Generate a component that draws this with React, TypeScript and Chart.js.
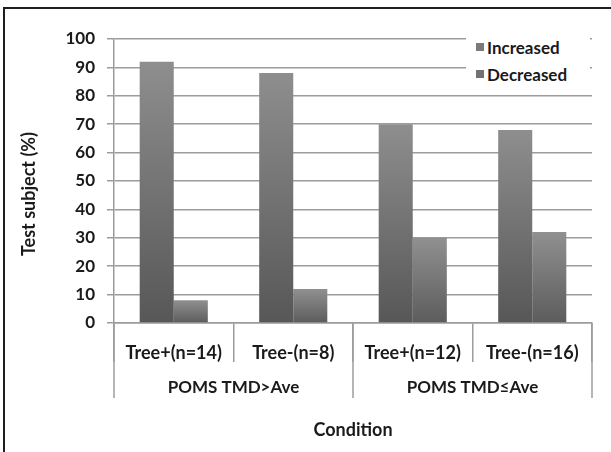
import React, { useEffect, useRef } from 'react';
import { Chart, registerables } from 'chart.js';

Chart.register(...registerables);

const categories = ['Tree+(n=14)', 'Tree-(n=8)', 'Tree+(n=12)', 'Tree-(n=16)'];
const groupLabels = ['POMS TMD>Ave', 'POMS TMD≤Ave'];
const groupSpans = [2, 2];
const seriesNames = ['Increased', 'Decreased'];
const increased = [92, 88, 70, 68];
const decreased = [8, 12, 30, 32];
const yMin = 0;
const yMax = 100;
const yStep = 10;
const yTitle = 'Test subject (%)';
const xTitle = 'Condition';

const FONT = 'Lato, "Open Sans", sans-serif';
const WEIGHT = 'bold';
const TEXT = '#1a1a1a';
const GRID = '#9c9c9c';
const legendColors = ['#7a7a7a', '#727272'];
const gradStops = [
  ['#8e8e8e', '#575757'],
  ['#909090', '#5c5c5c'],
];

function barFill(series: number) {
  return (ctx: any) => {
    const chart = ctx.chart;
    const area = chart.chartArea;
    const y = chart.scales && chart.scales.y;
    if (!area || !y || ctx.type !== 'data' || !ctx.parsed) return legendColors[series];
    const top = y.getPixelForValue(ctx.parsed.y);
    const bottom = y.getPixelForValue(0);
    const g = chart.ctx.createLinearGradient(0, top, 0, bottom);
    g.addColorStop(0, gradStops[series][0]);
    g.addColorStop(1, gradStops[series][1]);
    return g;
  };
}

const groupAxisPlugin = {
  id: 'groupAxis',
  afterDraw(chart: any) {
    const x = chart.scales.x;
    const ctx = chart.ctx;
    const area = chart.chartArea;
    const top = area.bottom;
    const bounds: number[] = [0];
    let acc = 0;
    groupSpans.forEach((s) => {
      acc += s;
      bounds.push(acc);
    });
    ctx.save();
    ctx.strokeStyle = GRID;
    ctx.lineWidth = 1.5;
    bounds.forEach((b) => {
      const px = x.getPixelForValue(b - 0.5);
      ctx.beginPath();
      ctx.moveTo(px, top);
      ctx.lineTo(px, top + 75);
      ctx.stroke();
    });
    ctx.fillStyle = TEXT;
    ctx.font = `${WEIGHT} 17px ${FONT}`;
    ctx.textAlign = 'center';
    ctx.textBaseline = 'middle';
    groupLabels.forEach((lab, i) => {
      const a = x.getPixelForValue(bounds[i] - 0.5);
      const b = x.getPixelForValue(bounds[i + 1] - 0.5);
      ctx.fillText(lab, (a + b) / 2, top + 65);
    });
    // y axis title, centred a little below the plot middle as in the original
    ctx.font = `${WEIGHT} 18px ${FONT}`;
    ctx.translate(29, (area.top + area.bottom) / 2 + 13);
    ctx.rotate(-Math.PI / 2);
    ctx.fillText(yTitle, 0, 0);
    ctx.restore();
  },
};

export default function App() {
  const ref = useRef<HTMLCanvasElement>(null);

  useEffect(() => {
    if (!ref.current) return;
    const chart = new Chart(ref.current, {
      type: 'bar',
      data: {
        labels: categories,
        datasets: [
          { label: seriesNames[0], data: increased, backgroundColor: barFill(0), borderWidth: 0 },
          { label: seriesNames[1], data: decreased, backgroundColor: barFill(1), borderWidth: 0 },
        ],
      },
      options: {
        responsive: false,
        animation: false,
        devicePixelRatio: 1,
        layout: { padding: { left: 0, right: 19, top: 39, bottom: 0 } },
        plugins: {
          legend: { display: false },
          tooltip: { enabled: false },
        },
        datasets: {
          bar: { categoryPercentage: 0.57, barPercentage: 1 },
        },
        scales: {
          x: {
            offset: true,
            grid: {
              offset: true,
              drawOnChartArea: false,
              drawTicks: true,
              tickLength: 39,
              color: GRID,
              lineWidth: 1.5,
            },
            border: { display: true, color: GRID, width: 1.5 },
            ticks: {
              padding: -20,
              color: TEXT,
              font: { family: FONT, size: 18, weight: WEIGHT as any },
              maxRotation: 0,
              autoSkip: false,
            },
            title: {
              display: true,
              text: xTitle,
              color: TEXT,
              font: { family: FONT, size: 18, weight: WEIGHT as any },
              padding: { top: 0, bottom: 11 },
            },
            afterFit: (s: any) => {
              s.height = 129;
            },
          },
          y: {
            min: yMin,
            max: yMax,
            ticks: {
              stepSize: yStep,
              padding: 12,
              color: TEXT,
              font: { family: FONT, size: 17, weight: WEIGHT as any },
            },
            grid: {
              color: GRID,
              lineWidth: 1.5,
              tickLength: 7,
            },
            border: { display: true, color: GRID, width: 1.5 },
            title: { display: false, text: yTitle },
            afterFit: (s: any) => {
              s.width = 114;
            },
          },
        },
      },
      plugins: [groupAxisPlugin],
    });
    return () => chart.destroy();
  }, []);

  return (
    <div style={{ position: 'fixed', left: 0, top: 0, width: 611, height: 452, background: '#fff', overflow: 'hidden' }}>
      <canvas ref={ref} width={611} height={452} style={{ position: 'absolute', left: 0, top: 0, width: 611, height: 452 }} />
      <div
        style={{
          position: 'absolute',
          left: 3,
          top: 7,
          right: 0,
          bottom: 0,
          borderTop: '2px solid #1e1e1e',
          borderLeft: '2px solid #1e1e1e',
          pointerEvents: 'none',
        }}
      />
      <div
        style={{
          position: 'absolute',
          left: 466,
          top: 32,
          width: 124,
          height: 54,
          background: '#fff',
          fontFamily: FONT,
          fontWeight: WEIGHT,
          fontSize: 17,
          color: TEXT,
        }}
      >
        {seriesNames.map((name, i) => (
          <div
            key={name}
            style={{ position: 'absolute', left: 10, top: 3 + i * 27, height: 24, display: 'flex', alignItems: 'center', whiteSpace: 'nowrap' }}
          >
            <span style={{ display: 'inline-block', width: 8, height: 8, background: legendColors[i], marginRight: 3 }} />
            <span>{name}</span>
          </div>
        ))}
      </div>
    </div>
  );
}
